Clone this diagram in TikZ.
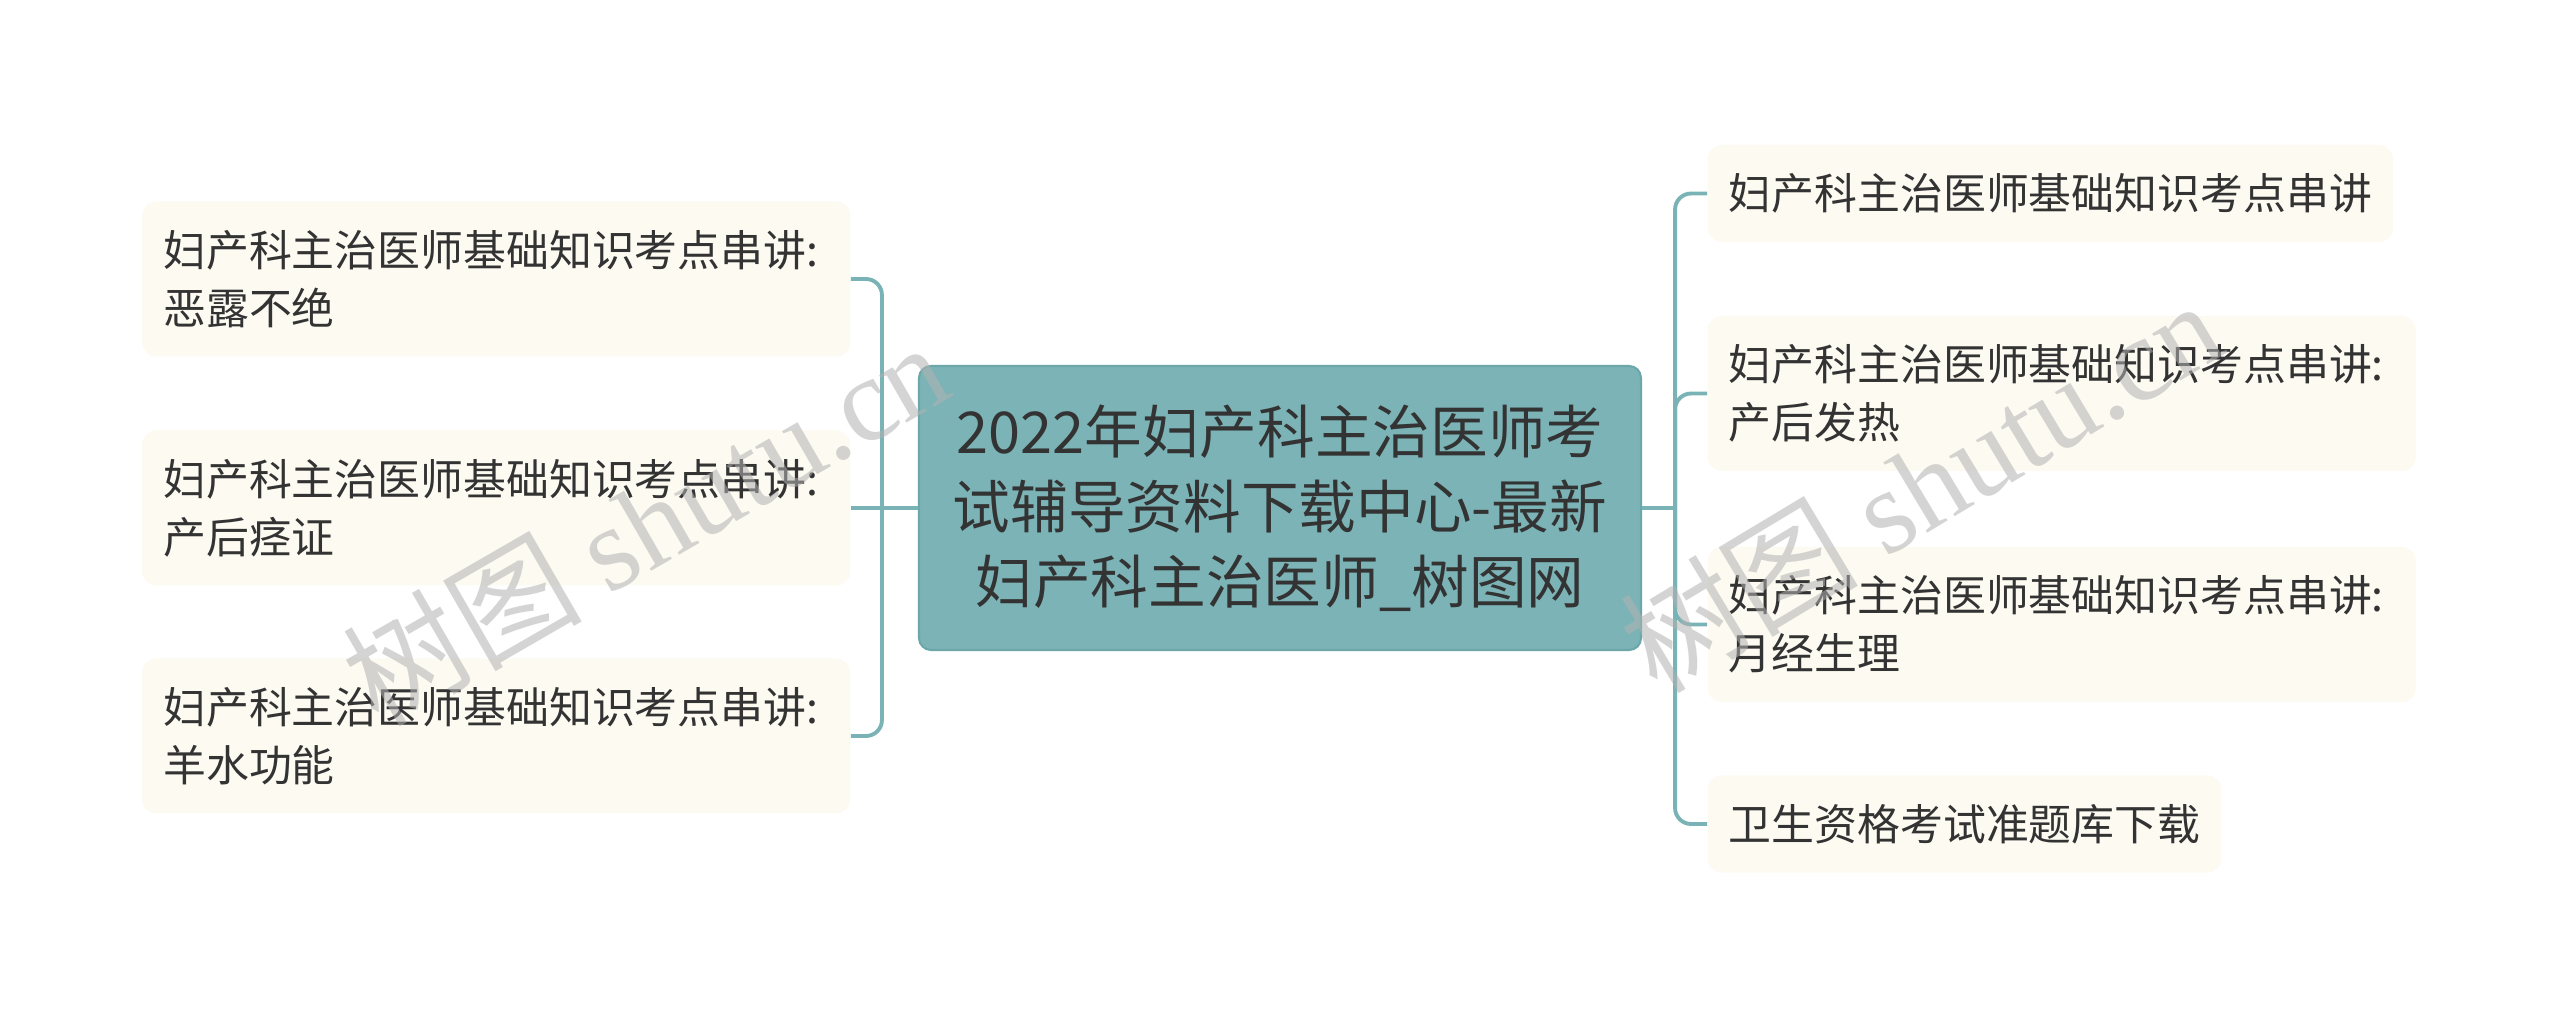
\documentclass[tikz,border=0pt]{standalone}
\usepackage{fontspec}
\setmainfont{Noto Sans CJK SC}
\newfontfamily\wmserif{Liberation Serif}
\usetikzlibrary{positioning}
\definecolor{tealfill}{HTML}{7BB3B6}
\definecolor{tealedge}{HTML}{6CA7AA}
\definecolor{tealline}{HTML}{7AB3B5}
\definecolor{cream}{HTML}{FCFAF1}
\definecolor{ink}{HTML}{333333}
\tikzset{
  root/.style={draw=tealedge, fill=tealfill, line width=0.6pt, rounded corners=0.12cm,
    minimum width=7.22cm, minimum height=2.84cm, align=center, text=ink,
    font=\fontsize{16.4}{21.4}\selectfont},
  leaf/.style={fill=cream, rounded corners=0.14cm, inner xsep=0.21cm, align=left,
    text=ink, minimum height=0.97cm, font=\fontsize{12.2}{16.5}\selectfont},
  leaftwo/.style={leaf, text width=6.66cm, minimum height=1.55cm},
  link/.style={draw=tealline, line width=1.1pt, rounded corners=0.16cm},
  wmtext/.style={text=black!30, text opacity=0.55, font=\fontsize{34}{34}\selectfont}
}
\begin{document}
\begin{tikzpicture}
\fill[white] (0,0) rectangle (25.6,-10.17);
\useasboundingbox (0,0) rectangle (25.6,-10.17);
% centre
\node[root] (root) at (12.80,-5.08) {2022年妇产科主治医师考\\试辅导资料下载中心-最新\\妇产科主治医师\_树图网};
% left side
\node[leaftwo, left=0.67cm of root, yshift=2.29cm] (l1) {妇产科主治医师基础知识考点串讲:\\恶露不绝};
\node[leaftwo, left=0.67cm of root] (l2) {妇产科主治医师基础知识考点串讲:\\产后痉证};
\node[leaftwo, left=0.67cm of root, yshift=-2.28cm] (l3) {妇产科主治医师基础知识考点串讲:\\羊水功能};
% right side
\node[leaf, right=0.65cm of root, yshift=3.145cm] (r1) {妇产科主治医师基础知识考点串讲};
\node[leaftwo, right=0.65cm of root, yshift=1.145cm] (r2) {妇产科主治医师基础知识考点串讲:\\产后发热};
\node[leaftwo, right=0.65cm of root, yshift=-1.165cm] (r3) {妇产科主治医师基础知识考点串讲:\\月经生理};
\node[leaf, right=0.65cm of root, yshift=-3.16cm] (r4) {卫生资格考试准题库下载};
% connectors
\coordinate (lj) at ([xshift=-0.36cm]root.west);
\coordinate (rj) at ([xshift=0.33cm]root.east);
\draw[link] (root.west) -- (l2.east);
\draw[link] (lj) |- (l1.east);
\draw[link] (lj) |- (l3.east);
\draw[link] (root.east) -- (rj);
\draw[link] (rj) |- (r1.west);
\draw[link] (rj) |- (r2.west);
\draw[link] (rj) |- (r3.west);
\draw[link] (rj) |- (r4.west);
% watermarks
\node[wmtext, rotate=30] (wm1) at (6.45,-5.22) {树图 {\wmserif shutu.cn}};
\node[wmtext, rotate=31] (wm2) at (19.20,-4.85) {树图 {\wmserif shutu.cn}};
\end{tikzpicture}
\end{document}
